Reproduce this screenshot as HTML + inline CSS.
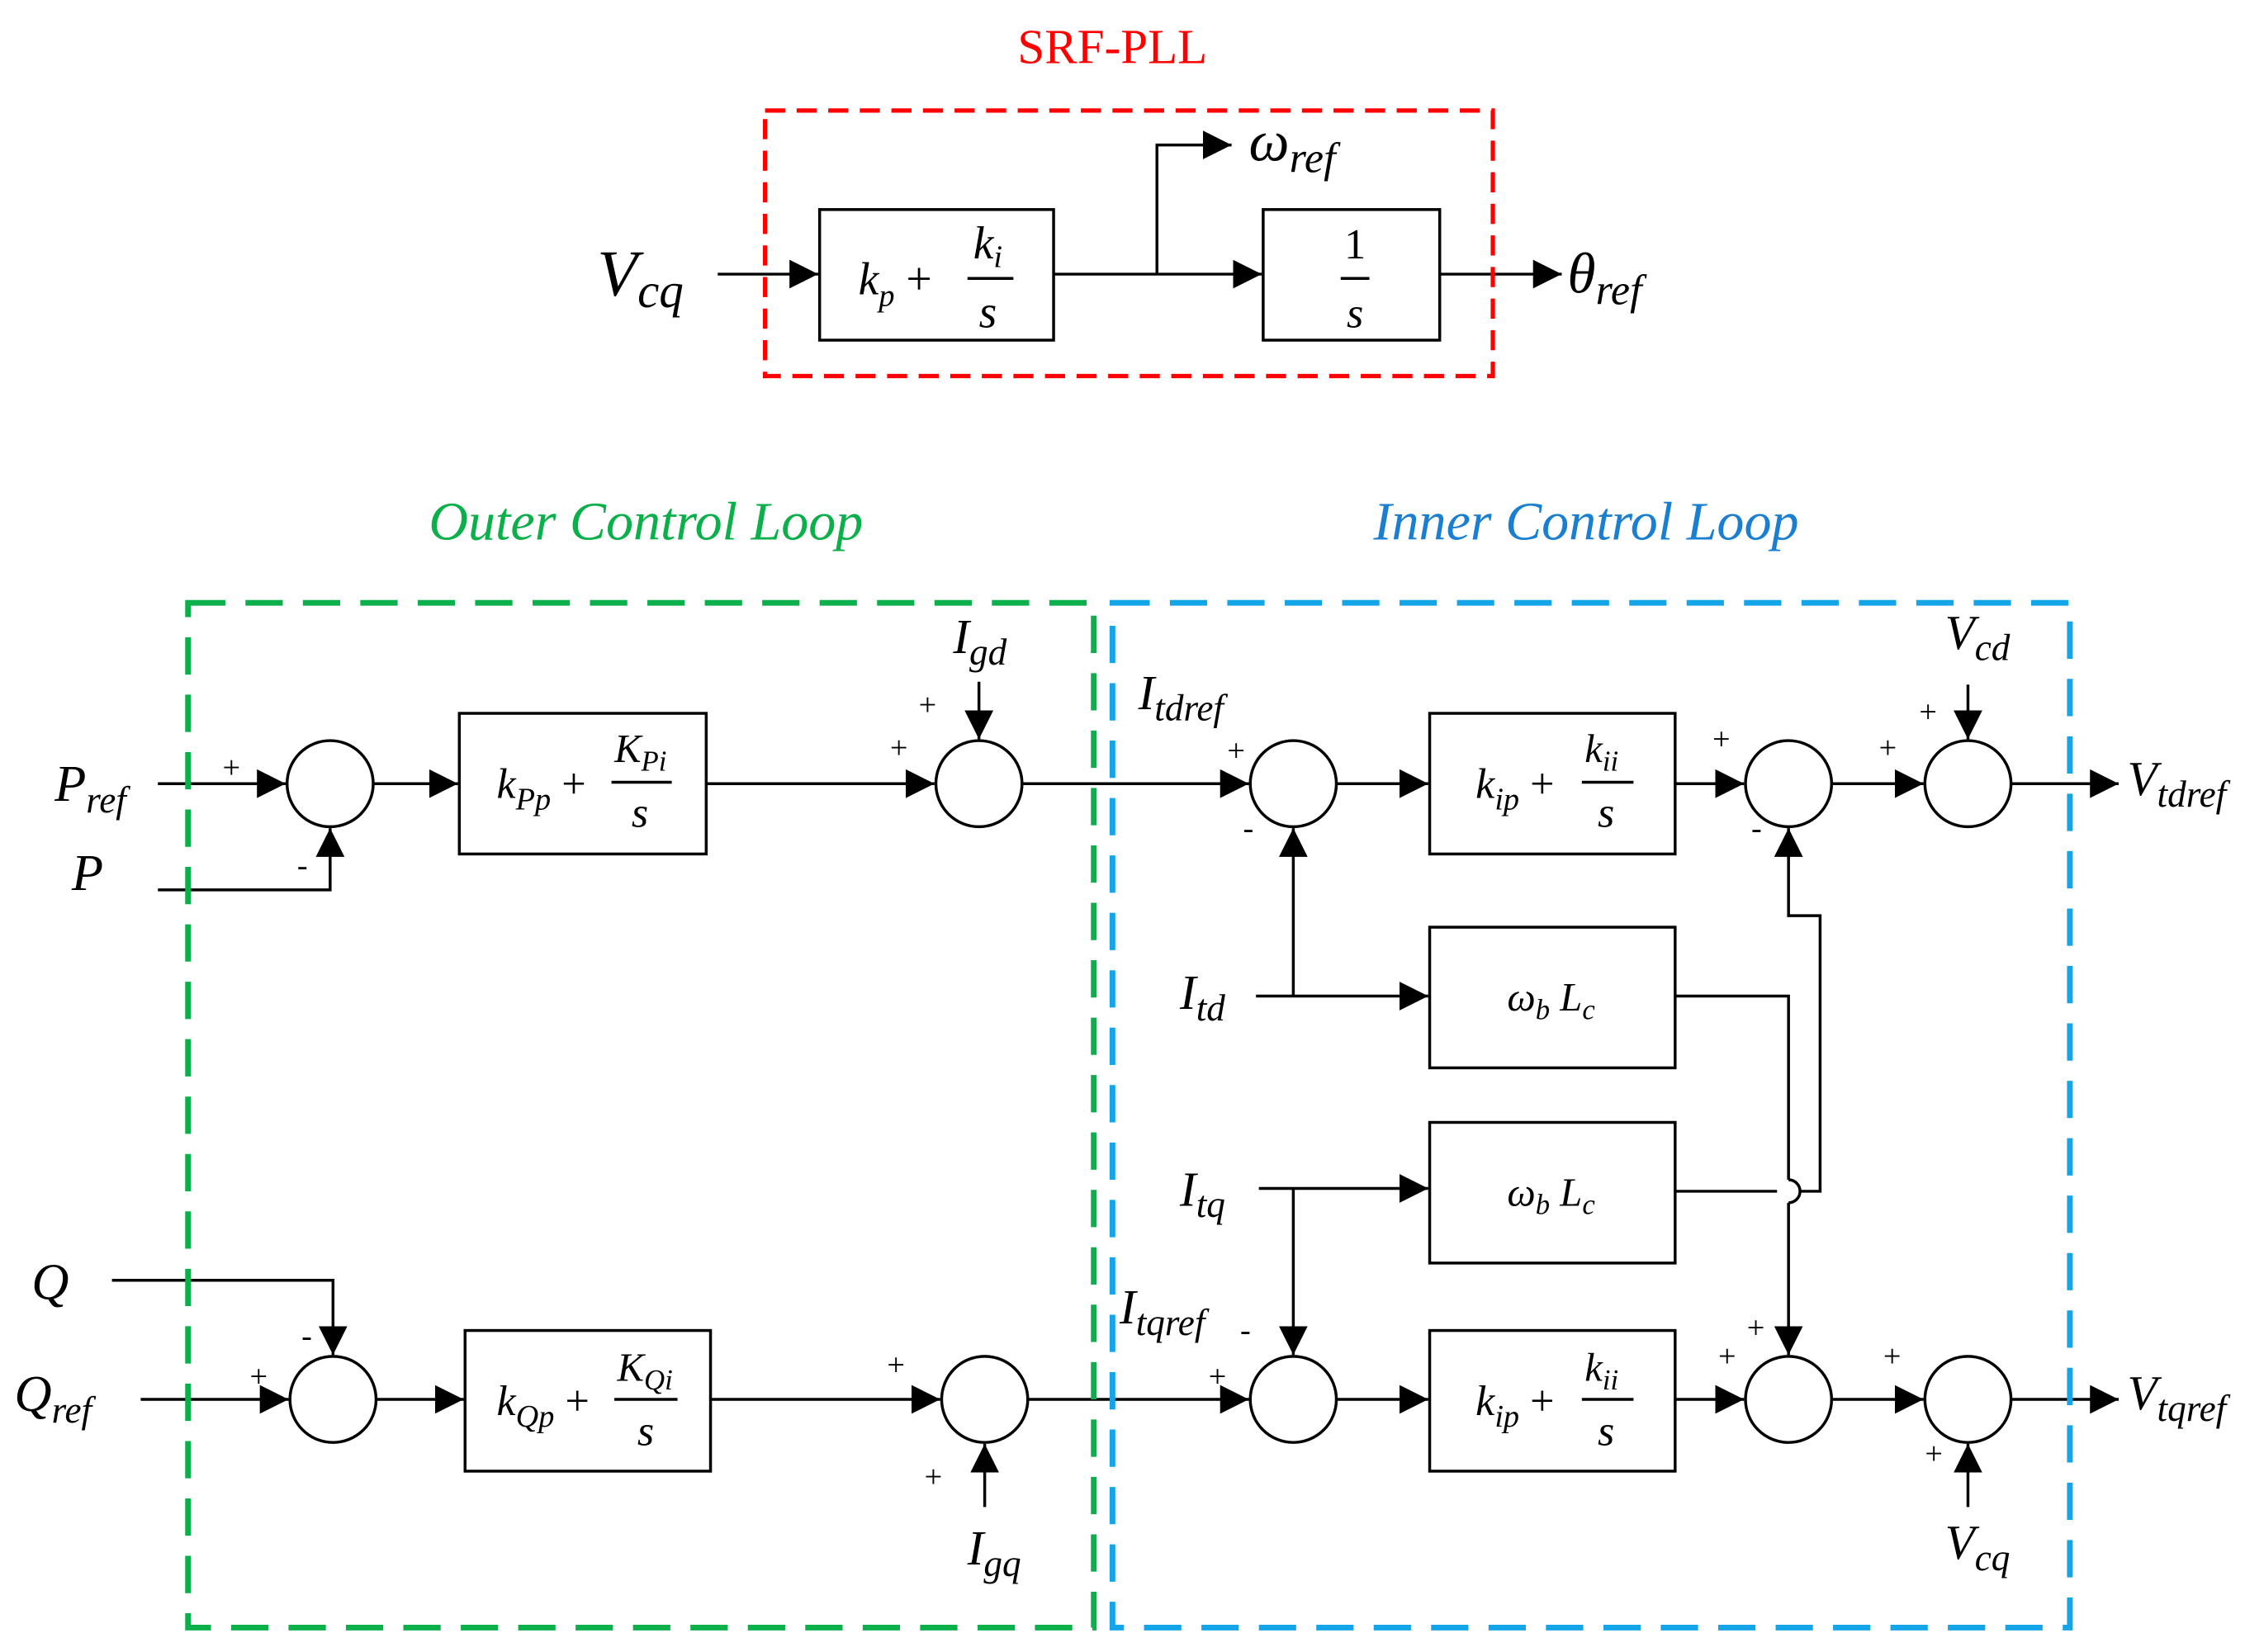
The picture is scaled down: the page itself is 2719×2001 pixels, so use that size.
<!DOCTYPE html>
<html><head><meta charset="utf-8"><style>
html,body{margin:0;padding:0;background:#fff;}
svg{display:block;}
text{font-family:"Liberation Serif",serif;font-style:italic;fill:#000;}
.n{font-style:normal;}
</style></head><body>
<svg width="2719" height="2001" viewBox="0 0 1564 1151" xmlns="http://www.w3.org/2000/svg">
<defs>
<marker id="a" markerUnits="userSpaceOnUse" markerWidth="22" markerHeight="22" refX="20" refY="10" orient="auto">
<path d="M0,0 L20,10 L0,20 Z" fill="#000"/></marker>
</defs>
<g fill="none" stroke="#000" stroke-width="2">
<!-- PLL -->
<line x1="500" y1="191" x2="570" y2="191" marker-end="url(#a)"/>
<rect x="571" y="146" width="163" height="91"/>
<line x1="734" y1="191" x2="879" y2="191" marker-end="url(#a)"/>
<polyline points="806,191 806,101 858,101" marker-end="url(#a)"/>
<rect x="880" y="146" width="123" height="91"/>
<line x1="1003" y1="191" x2="1088" y2="191" marker-end="url(#a)"/>
<!-- top row -->
<line x1="110" y1="546" x2="199" y2="546" marker-end="url(#a)"/>
<circle cx="230" cy="546" r="30"/>
<polyline points="110,620 230,620 230,577" marker-end="url(#a)"/>
<line x1="260" y1="546" x2="319" y2="546" marker-end="url(#a)"/>
<rect x="320" y="497" width="172" height="98"/>
<line x1="492" y1="546" x2="651" y2="546" marker-end="url(#a)"/>
<circle cx="682" cy="546" r="30"/>
<line x1="682" y1="475" x2="682" y2="515" marker-end="url(#a)"/>
<line x1="712" y1="546" x2="870" y2="546" marker-end="url(#a)"/>
<circle cx="901" cy="546" r="30"/>
<line x1="931" y1="546" x2="995" y2="546" marker-end="url(#a)"/>
<rect x="996" y="497" width="171" height="98"/>
<line x1="1167" y1="546" x2="1215" y2="546" marker-end="url(#a)"/>
<circle cx="1246" cy="546" r="30"/>
<line x1="1276" y1="546" x2="1340" y2="546" marker-end="url(#a)"/>
<circle cx="1371" cy="546" r="30"/>
<line x1="1371" y1="477" x2="1371" y2="515" marker-end="url(#a)"/>
<line x1="1401" y1="546" x2="1476" y2="546" marker-end="url(#a)"/>
<!-- middle -->
<line x1="875" y1="694" x2="995" y2="694" marker-end="url(#a)"/>
<line x1="901" y1="694" x2="901" y2="577" marker-end="url(#a)"/>
<rect x="996" y="646" width="171" height="98"/>
<polyline points="1167,694 1246,694 1246,822 M1246,838" />
<path d="M1246,822 A8,8 0 0 1 1246,838"/>
<line x1="1246" y1="838" x2="1246" y2="944" marker-end="url(#a)"/>
<line x1="877" y1="828" x2="995" y2="828" marker-end="url(#a)"/>
<line x1="901" y1="828" x2="901" y2="944" marker-end="url(#a)"/>
<rect x="996" y="782" width="171" height="98"/>
<polyline points="1167,830 1238,830"/>
<polyline points="1254,830 1268,830 1268,638 1246,638 1246,577" marker-end="url(#a)"/>
<!-- bottom row -->
<polyline points="78,892 232,892 232,944" marker-end="url(#a)"/>
<line x1="98" y1="975" x2="201" y2="975" marker-end="url(#a)"/>
<circle cx="232" cy="975" r="30"/>
<line x1="262" y1="975" x2="323" y2="975" marker-end="url(#a)"/>
<rect x="324" y="927" width="171" height="98"/>
<line x1="495" y1="975" x2="655" y2="975" marker-end="url(#a)"/>
<circle cx="686" cy="975" r="30"/>
<line x1="686" y1="1050" x2="686" y2="1006" marker-end="url(#a)"/>
<line x1="716" y1="975" x2="870" y2="975" marker-end="url(#a)"/>
<circle cx="901" cy="975" r="30"/>
<line x1="931" y1="975" x2="995" y2="975" marker-end="url(#a)"/>
<rect x="996" y="927" width="171" height="98"/>
<line x1="1167" y1="975" x2="1215" y2="975" marker-end="url(#a)"/>
<circle cx="1246" cy="975" r="30"/>
<line x1="1276" y1="975" x2="1340" y2="975" marker-end="url(#a)"/>
<circle cx="1371" cy="975" r="30"/>
<line x1="1371" y1="1050" x2="1371" y2="1006" marker-end="url(#a)"/>
<line x1="1401" y1="975" x2="1476" y2="975" marker-end="url(#a)"/>
</g>
<!-- dashed boxes -->
<rect x="533" y="77" width="507" height="185" fill="none" stroke="#f00" stroke-width="3" stroke-dasharray="14,8"/>
<rect x="131" y="420" width="631" height="714" fill="none" stroke="#0bb04b" stroke-width="4" stroke-dasharray="26,14"/>
<rect x="775" y="420" width="667" height="714" fill="none" stroke="#14a5e8" stroke-width="4" stroke-dasharray="26,14"/>
<!-- titles -->
<text x="775" y="44" class="n" font-size="34" fill="#f00" text-anchor="middle" style="fill:#f00">SRF-PLL</text>
<text x="450" y="376" font-size="38" text-anchor="middle" style="fill:#0bb04b">Outer Control Loop</text>
<text x="1105" y="376" font-size="38" text-anchor="middle" style="fill:#1a7fd0">Inner Control Loop</text>
<!-- PLL labels -->
<text x="416" y="206" font-size="46">V<tspan font-size="34" dy="8">cq</tspan></text>
<text x="598" y="205" font-size="32">k<tspan font-size="22" dy="8">p</tspan><tspan class="n" dy="-8"> +</tspan></text>
<text x="678" y="180" font-size="32">k<tspan font-size="22" dy="6">i</tspan></text>
<line x1="674" y1="194" x2="706" y2="194" stroke="#000" stroke-width="2"/>
<text x="682" y="228" font-size="32">s</text>
<text x="944" y="180" class="n" font-size="30" text-anchor="middle">1</text>
<line x1="934" y1="194" x2="954" y2="194" stroke="#000" stroke-width="2"/>
<text x="944" y="228" font-size="30" text-anchor="middle">s</text>
<text x="870" y="112" font-size="40">ω<tspan font-size="30" dy="8">ref</tspan></text>
<text x="1092" y="204" font-size="40">θ<tspan font-size="30" dy="8">ref</tspan></text>
<!-- outer labels -->
<text x="38" y="558" font-size="36">P<tspan font-size="26" dy="8">ref</tspan></text>
<text x="50" y="620" font-size="36">P</text>
<text x="155" y="542" class="n" font-size="22">+</text>
<text x="207" y="610" class="n" font-size="22">-</text>
<text x="346" y="556" font-size="30">k<tspan font-size="22" dy="8">Pp</tspan><tspan class="n" dy="-8"> +</tspan></text>
<text x="428" y="531" font-size="28">K<tspan font-size="20" dy="6">Pi</tspan></text>
<line x1="426" y1="545" x2="468" y2="545" stroke="#000" stroke-width="2"/>
<text x="440" y="576" font-size="30">s</text>
<text x="620" y="528" class="n" font-size="22">+</text>
<text x="640" y="498" class="n" font-size="22">+</text>
<text x="664" y="455" font-size="34">I<tspan font-size="26" dy="8">gd</tspan></text>
<text x="22" y="905" font-size="36">Q</text>
<text x="10" y="983" font-size="36">Q<tspan font-size="26" dy="8">ref</tspan></text>
<text x="210" y="938" class="n" font-size="22">-</text>
<text x="174" y="966" class="n" font-size="22">+</text>
<text x="346" y="986" font-size="30">k<tspan font-size="22" dy="8">Qp</tspan><tspan class="n" dy="-8"> +</tspan></text>
<text x="430" y="962" font-size="28">K<tspan font-size="20" dy="6">Qi</tspan></text>
<line x1="428" y1="975" x2="472" y2="975" stroke="#000" stroke-width="2"/>
<text x="444" y="1007" font-size="30">s</text>
<text x="618" y="958" class="n" font-size="22">+</text>
<text x="644" y="1036" class="n" font-size="22">+</text>
<text x="674" y="1090" font-size="34">I<tspan font-size="26" dy="8">gq</tspan></text>
<!-- inner labels -->
<text x="793" y="494" font-size="34">I<tspan font-size="26" dy="8">tdref</tspan></text>
<text x="855" y="530" class="n" font-size="22">+</text>
<text x="866" y="584" class="n" font-size="22">-</text>
<text x="1028" y="556" font-size="30">k<tspan font-size="22" dy="8">ip</tspan><tspan class="n" dy="-8"> +</tspan></text>
<text x="1104" y="531" font-size="28">k<tspan font-size="20" dy="6">ii</tspan></text>
<line x1="1102" y1="545" x2="1138" y2="545" stroke="#000" stroke-width="2"/>
<text x="1113" y="576" font-size="30">s</text>
<text x="1193" y="522" class="n" font-size="22">+</text>
<text x="1220" y="584" class="n" font-size="22">-</text>
<text x="1309" y="528" class="n" font-size="22">+</text>
<text x="1337" y="503" class="n" font-size="22">+</text>
<text x="1355" y="452" font-size="34">V<tspan font-size="26" dy="8">cd</tspan></text>
<text x="1482" y="554" font-size="34">V<tspan font-size="26" dy="8">tdref</tspan></text>
<text x="822" y="703" font-size="34">I<tspan font-size="26" dy="8">td</tspan></text>
<text x="822" y="840" font-size="34">I<tspan font-size="26" dy="8">tq</tspan></text>
<text x="1050" y="704" font-size="28">ω<tspan font-size="20" dy="6">b</tspan><tspan dy="-6"> L</tspan><tspan font-size="20" dy="6">c</tspan></text>
<text x="1050" y="840" font-size="28">ω<tspan font-size="20" dy="6">b</tspan><tspan dy="-6"> L</tspan><tspan font-size="20" dy="6">c</tspan></text>
<text x="780" y="922" font-size="34">I<tspan font-size="26" dy="8">tqref</tspan></text>
<text x="864" y="934" class="n" font-size="22">-</text>
<text x="842" y="966" class="n" font-size="22">+</text>
<text x="1028" y="986" font-size="30">k<tspan font-size="22" dy="8">ip</tspan><tspan class="n" dy="-8"> +</tspan></text>
<text x="1104" y="962" font-size="28">k<tspan font-size="20" dy="6">ii</tspan></text>
<line x1="1102" y1="975" x2="1138" y2="975" stroke="#000" stroke-width="2"/>
<text x="1113" y="1007" font-size="30">s</text>
<text x="1197" y="952" class="n" font-size="22">+</text>
<text x="1217" y="932" class="n" font-size="22">+</text>
<text x="1312" y="952" class="n" font-size="22">+</text>
<text x="1341" y="1020" class="n" font-size="22">+</text>
<text x="1355" y="1086" font-size="34">V<tspan font-size="26" dy="8">cq</tspan></text>
<text x="1482" y="982" font-size="34">V<tspan font-size="26" dy="8">tqref</tspan></text>
</svg>
</body></html>
